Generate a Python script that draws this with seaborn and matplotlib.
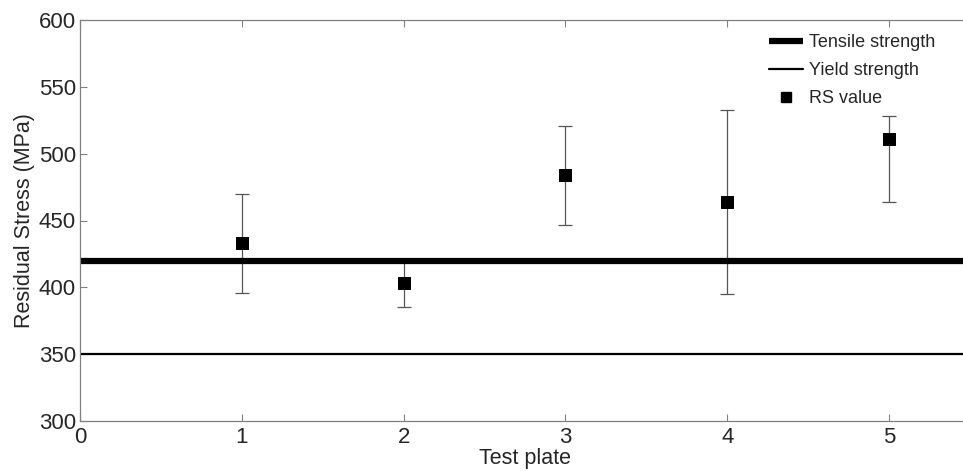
import numpy as np
import pandas as pd
import matplotlib
matplotlib.use("Agg")
import matplotlib.pyplot as plt
import seaborn as sns
from matplotlib.lines import Line2D

plates = [1, 2, 3, 4, 5]
rs_value = [433, 403, 484, 464, 511]
rs_low = [396, 385, 447, 395, 464]
rs_high = [470, 420, 521, 533, 528]
tensile_strength = 420
yield_strength = 350

sns.set_style("ticks")
plt.rcParams['font.family'] = ['Liberation Sans', 'DejaVu Sans']

df = pd.DataFrame({"plate": plates, "rs": rs_value})

fig = plt.figure(figsize=(9.63, 4.71), dpi=100)
ax = fig.add_axes([80 / 963, 50 / 471, 890 / 963, 401 / 471])

ax.axhline(tensile_strength, color="black", lw=4.5, zorder=2, solid_capstyle="butt")
ax.axhline(yield_strength, color="black", lw=1.6, zorder=2)

lo = np.array(rs_value) - np.array(rs_low)
hi = np.array(rs_high) - np.array(rs_value)
ax.errorbar(plates, rs_value, yerr=[lo, hi], fmt="none", ecolor="#555555",
            elinewidth=0.9, capsize=5, capthick=0.9, zorder=1)
sns.scatterplot(data=df, x="plate", y="rs", marker="s", s=80, color="black",
                edgecolor="black", ax=ax, zorder=3, legend=False)

ax.set_xlim(0, 5.5)
ax.set_ylim(300, 600)
ax.set_xticks([0, 1, 2, 3, 4, 5])
ax.set_yticks([300, 350, 400, 450, 500, 550, 600])
ax.set_xlabel("Test plate", fontsize=15.5, labelpad=0)
ax.set_ylabel("Residual Stress (MPa)", fontsize=15.5, labelpad=3)
ax.tick_params(direction="in", top=True, right=True, labelsize=16,
               color="#808080", length=5, width=0.8)
ax.tick_params(axis="x", pad=4)
ax.tick_params(axis="y", pad=3)
for sp in ax.spines.values():
    sp.set_visible(True)
    sp.set_color("#808080")
    sp.set_linewidth(0.9)

handles = [
    Line2D([], [], color="black", lw=4.5, solid_capstyle="butt"),
    Line2D([], [], color="black", lw=1.6),
    Line2D([], [], color="black", marker="s", ls="none", markersize=7),
]
ax.legend(handles, ["Tensile strength", "Yield strength", "RS value"],
          loc="upper right", bbox_to_anchor=(944 / 963, 1 - 25 / 471),
          bbox_transform=fig.transFigure, frameon=False, fontsize=13,
          handlelength=1.9, handletextpad=0.3, labelspacing=0.62,
          borderpad=0)

fig.savefig("out.png", dpi=100)
